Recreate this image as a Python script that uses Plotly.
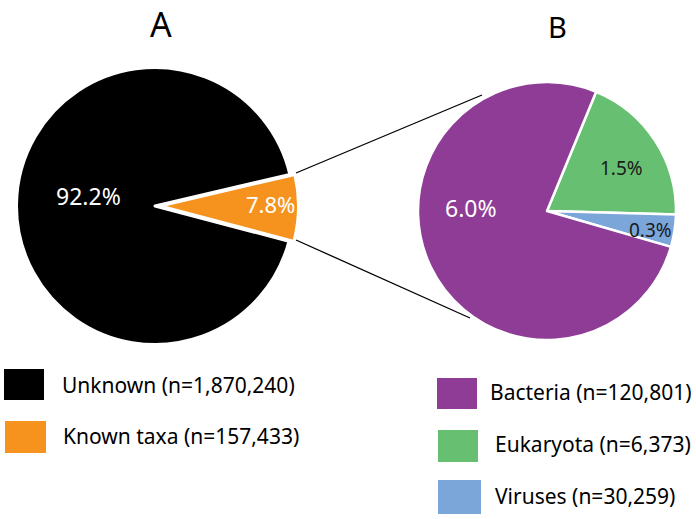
import plotly.graph_objects as go

W, H = 696, 519

# ---- data ----
a_labels = ["Known taxa", "Unknown"]
a_counts = [157433, 1870240]
a_text = ["7.8%", "92.2%"]
a_colors = ["#F6931E", "#000000"]

b_labels = ["Eukaryota", "Viruses", "Bacteria"]
b_counts = [6373, 30259, 120801]          # legend counts
b_slice_values = [30259, 6373, 120801]    # slice sizes as drawn
b_text = ["1.5%", "0.3%", "6.0%"]
b_colors = ["#67C072", "#7AA6D9", "#8E3C96"]

legend_a = ["Unknown (n=1,870,240)", "Known taxa (n=157,433)"]
legend_a_colors = ["#000000", "#F6931E"]
legend_b = ["Bacteria (n=120,801)", "Eukaryota (n=6,373)", "Viruses (n=30,259)"]
legend_b_colors = ["#8E3C96", "#67C072", "#7AA6D9"]


def px(x):
    return x / W


def py(y):
    return 1 - y / H


FONT = "Noto Sans"

fig = go.Figure()

# Pie A
cxA, cyA, rA, pull = 155, 206, 138.5, 0.036
half = rA * (1 + pull)
fig.add_trace(go.Pie(
    labels=a_labels, values=a_counts, textinfo="none",
    sort=False, direction="clockwise", rotation=76.8,
    pull=[pull, 0],
    marker=dict(colors=a_colors, line=dict(color="white", width=3)),
    domain=dict(x=[px(cxA - half), px(cxA + half)], y=[py(cyA + half), py(cyA - half)]),
    showlegend=False, hoverinfo="label+value",
))

# Pie B
cxB, cyB, rB = 547, 211, 129
fig.add_trace(go.Pie(
    labels=b_labels, values=b_slice_values, textinfo="none",
    sort=False, direction="clockwise", rotation=22.4,
    marker=dict(colors=b_colors, line=dict(color="white", width=2.5)),
    domain=dict(x=[px(cxB - rB), px(cxB + rB)], y=[py(cyB + rB), py(cyB - rB)]),
    showlegend=False, hoverinfo="label+value",
))

shapes = []
annotations = []

# slice percentage labels
a_label_pos = [(270, 204), (88, 196)]
a_label_size = [22, 23]
for t, (x, y), s in zip(a_text, a_label_pos, a_label_size):
    annotations.append(dict(text=t, x=px(x), y=py(y), xref="paper", yref="paper",
                            showarrow=False, xanchor="center", yanchor="middle",
                            font=dict(family=FONT, size=s, color="white")))
b_label_pos = [(621, 168), (650, 230), (471, 208)]
b_label_size = [19, 19, 23]
b_label_color = ["#1a1a1a", "#1a1a1a", "white"]
for t, (x, y), s, c in zip(b_text, b_label_pos, b_label_size, b_label_color):
    annotations.append(dict(text=t, x=px(x), y=py(y), xref="paper", yref="paper",
                            showarrow=False, xanchor="center", yanchor="middle",
                            font=dict(family=FONT, size=s, color=c)))

# connector lines
for (x0, y0, x1, y1) in [(296, 173, 482, 95), (296, 240, 470, 318)]:
    shapes.append(dict(type="line", xref="paper", yref="paper",
                       x0=px(x0), y0=py(y0), x1=px(x1), y1=py(y1),
                       line=dict(color="black", width=1.3)))

# panel letters
annotations.append(dict(text="A", x=px(161), y=1, xref="paper", yref="paper",
                        showarrow=False, font=dict(family=FONT, size=34, color="black"),
                        xanchor="center", yanchor="top", borderpad=0))
annotations.append(dict(text="B", x=px(557), y=py(26), xref="paper", yref="paper",
                        showarrow=False, font=dict(family=FONT, size=29, color="black"),
                        xanchor="center", yanchor="middle"))

# legend A
legA_boxes = [(4, 369, 44, 400), (5, 421, 46, 453)]
legA_text = [(60, 385), (61, 436)]
for (bx, t, c, tp) in zip(legA_boxes, legend_a, legend_a_colors, legA_text):
    shapes.append(dict(type="rect", xref="paper", yref="paper",
                       x0=px(bx[0]), y0=py(bx[3]), x1=px(bx[2]), y1=py(bx[1]),
                       fillcolor=c, line=dict(width=0)))
    annotations.append(dict(text=t, x=px(tp[0]), y=py(tp[1]), xref="paper", yref="paper",
                            showarrow=False, xanchor="left", yanchor="middle",
                            font=dict(family=FONT, size=21, color="black")))

# legend B
legB_boxes = [(437, 378, 477, 409), (438, 430, 478, 462), (438, 480, 481, 514)]
legB_text = [(488, 392), (493, 444), (493, 496)]
for (bx, t, c, tp) in zip(legB_boxes, legend_b, legend_b_colors, legB_text):
    shapes.append(dict(type="rect", xref="paper", yref="paper",
                       x0=px(bx[0]), y0=py(bx[3]), x1=px(bx[2]), y1=py(bx[1]),
                       fillcolor=c, line=dict(width=0)))
    annotations.append(dict(text=t, x=px(tp[0]), y=py(tp[1]), xref="paper", yref="paper",
                            showarrow=False, xanchor="left", yanchor="middle",
                            font=dict(family=FONT, size=21, color="black")))

fig.update_layout(
    width=W, height=H,
    margin=dict(l=0, r=0, t=0, b=0),
    paper_bgcolor="white", plot_bgcolor="white",
    shapes=shapes, annotations=annotations,
    showlegend=False,
)

fig.write_html("out.html", config={"displayModeBar": False},
               post_script="document.body.style.margin='0';")
